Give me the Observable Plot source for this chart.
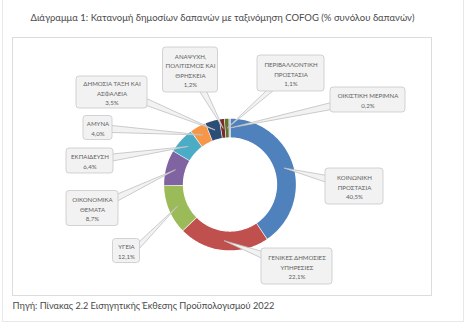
<!DOCTYPE html>
<html><head><meta charset="utf-8">
<script src="https://cdn.jsdelivr.net/npm/d3@7"></script>
<script src="https://cdn.jsdelivr.net/npm/@observablehq/plot@0.6"></script>
<style>
html,body{margin:0;padding:0;background:#fff;}
#page{position:relative;width:465px;height:323px;overflow:hidden;font-family:Lato,"Noto Sans",sans-serif;}
#outer{position:absolute;left:2px;top:-1px;width:462px;height:323px;box-sizing:border-box;border:1px solid #e8e8e8;}
#title{position:absolute;left:0;top:12px;width:445px;text-align:center;font-size:9.5px;color:#4a4a4a;white-space:nowrap;}
#frame{position:absolute;left:12px;top:37px;width:420px;height:259px;box-sizing:border-box;border:1px solid #dcdcdc;}
#frame svg{display:block;}
#caption{position:absolute;left:12.5px;top:300px;font-size:9.2px;color:#4a4a4a;white-space:nowrap;}
</style></head><body>
<div id="page">
<div id="outer"></div>
<div id="title">Διάγραμμα 1: Κατανομή δημοσίων δαπανών με ταξινόμηση COFOG (% συνόλου δαπανών)</div>
<div id="frame"></div>
<div id="caption">Πηγή: Πίνακας 2.2 Εισηγητικής Έκθεσης Προϋπολογισμού 2022</div>
</div>
<script>
// ---- data ----
const categories = [
  "ΚΟΙΝΩΝΙΚΗ\nΠΡΟΣΤΑΣΙΑ",
  "ΓΕΝΙΚΕΣ ΔΗΜΟΣΙΕΣ\nΥΠΗΡΕΣΙΕΣ",
  "ΥΓΕΙΑ",
  "ΟΙΚΟΝΟΜΙΚΑ\nΘΕΜΑΤΑ",
  "ΕΚΠΑΙΔΕΥΣΗ",
  "ΑΜΥΝΑ",
  "ΔΗΜΟΣΙΑ ΤΑΞΗ ΚΑΙ\nΑΣΦΑΛΕΙΑ",
  "ΑΝΑΨΥΧΗ,\nΠΟΛΙΤΙΣΜΟΣ ΚΑΙ\nΘΡΗΣΚΕΙΑ",
  "ΠΕΡΙΒΑΛΛΟΝΤΙΚΗ\nΠΡΟΣΤΑΣΙΑ",
  "ΟΙΚΙΣΤΙΚΗ ΜΕΡΙΜΝΑ"
];
const values = [40.5, 22.1, 12.1, 8.7, 6.4, 4.0, 3.5, 1.2, 1.1, 0.2];
const colors = ["#4F81BD","#C0504D","#9BBB59","#8064A2","#4BACC6","#F79646","#2C4D75","#772C2A","#5F7530","#4D3B62"];

// ---- layout (pixels relative to donut centre) ----
const outerR = 66.5, innerR = 46.5;
const calloutLayout = [
  {cx: 124.5, cy: 2, w: 58, h: 36},
  {cx: 67, cy: 82, w: 71, h: 36},
  {cx: -103.5, cy: 66.5, w: 27, h: 24},
  {cx: -137.5, cy: 24, w: 52, h: 35},
  {cx: -140, cy: -23.5, w: 47, h: 25},
  {cx: -132, cy: -56.5, w: 29, h: 24},
  {cx: -118, cy: -92, w: 71, h: 32},
  {cx: -39.5, cy: -114.5, w: 55, h: 45},
  {cx: 61, cy: -111, w: 67, h: 36},
  {cx: 138, cy: -84.5, w: 75, h: 25}
];

const fmt = v => v.toFixed(1).replace(".", ",") + "%";
const rows = categories.map((c, i) => ({name: c, value: values[i], color: colors[i], i}));
const arcs = d3.pie().sort(null).value(d => d.value).startAngle(0).endAngle(2 * Math.PI)(rows);

// ring polygons
const ringPts = [];
for (const a of arcs) {
  const n = Math.max(2, Math.ceil((a.endAngle - a.startAngle) / (Math.PI / 180)));
  const outer = [], inner = [];
  for (let k = 0; k <= n; k++) {
    const t = a.startAngle + (a.endAngle - a.startAngle) * k / n;
    outer.push({x: outerR * Math.sin(t), y: -outerR * Math.cos(t)});
    inner.push({x: innerR * Math.sin(t), y: -innerR * Math.cos(t)});
  }
  for (const p of [...outer, ...inner.reverse()]) ringPts.push({...p, s: a.data.i, color: a.data.color});
}

// callouts
const boxes = [], wedgePts = [], labels = [];
arcs.forEach((a, i) => {
  const L = calloutLayout[i];
  const mid = (a.startAngle + a.endAngle) / 2, rm = (outerR + innerR) / 2;
  const tx = rm * Math.sin(mid), ty = -rm * Math.cos(mid);
  const hw = L.w / 2, hh = L.h / 2;
  const dx = tx - L.cx, dy = ty - L.cy;
  const sx = Math.abs(dx) > 1e-9 ? hw / Math.abs(dx) : Infinity;
  const sy = Math.abs(dy) > 1e-9 ? hh / Math.abs(dy) : Infinity;
  const bw = 3.5;
  let b1, b2;
  if (sx < sy) {
    const ex = L.cx + Math.sign(dx) * hw;
    let ey = L.cy + dy * sx;
    ey = Math.max(L.cy - hh + 3 + bw, Math.min(L.cy + hh - 3 - bw, ey));
    b1 = {x: ex - Math.sign(dx) * 1, y: ey - bw}; b2 = {x: ex - Math.sign(dx) * 1, y: ey + bw};
  } else {
    const ey = L.cy + Math.sign(dy) * hh;
    let ex = L.cx + dx * sy;
    ex = Math.max(L.cx - hw + 3 + bw, Math.min(L.cx + hw - 3 - bw, ex));
    b1 = {x: ex - bw, y: ey - Math.sign(dy) * 1}; b2 = {x: ex + bw, y: ey - Math.sign(dy) * 1};
  }
  for (const p of [b1, {x: tx, y: ty}, b2]) wedgePts.push({...p, s: i});
  boxes.push({x1: L.cx - hw, x2: L.cx + hw, y1: L.cy - hh, y2: L.cy + hh});
  labels.push({x: L.cx, y: L.cy, text: a.data.name + "\n" + fmt(a.data.value)});
});

const W = 418, H = 257;
const chart = Plot.plot({
  width: W, height: H, margin: 0,
  style: {background: "transparent", overflow: "visible"},
  x: {domain: [-216.5, 201.5], axis: null},
  y: {domain: [-146, 111], reverse: true, axis: null},
  color: {type: "identity"},
  marks: [
    Plot.line(ringPts, {x: "x", y: "y", z: "s", fill: "color", stroke: "#ffffff", strokeWidth: 1.3, strokeLinejoin: "miter"}),
    Plot.line(wedgePts, {x: "x", y: "y", z: "s", fill: "#f2f2f2", stroke: "#bfbfbf", strokeWidth: 0.8}),
    Plot.rect(boxes, {x1: "x1", x2: "x2", y1: "y1", y2: "y2", rx: 3, fill: "#f2f2f2", stroke: "#c8c8c8", strokeWidth: 0.8}),
    Plot.text(labels, {x: "x", y: "y", text: "text", lineAnchor: "middle", lineHeight: 1.55, fontSize: 6.1, fill: "#5f5f5f", fontFamily: "Lato, 'Noto Sans', sans-serif"})
  ]
});
document.getElementById("frame").appendChild(chart);
</script>
</body></html>
